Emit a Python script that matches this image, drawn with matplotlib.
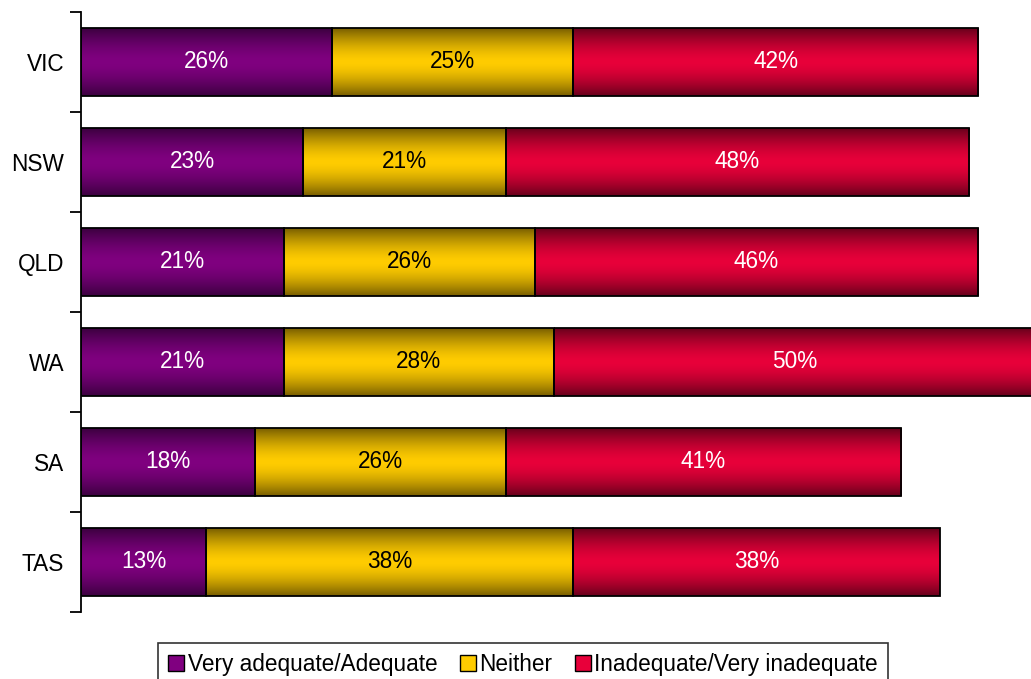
import numpy as np
import matplotlib.pyplot as plt
from matplotlib.colors import to_rgb
from matplotlib.patches import Patch

plt.rcParams['font.family'] = ['Liberation Sans', 'DejaVu Sans']

states = ['VIC', 'NSW', 'QLD', 'WA', 'SA', 'TAS']
adequate = [26, 23, 21, 21, 18, 13]
neither = [25, 21, 26, 28, 26, 38]
inadequate = [42, 48, 46, 50, 41, 38]

series = [
    ('Very adequate/Adequate', adequate, '#800080', '#3c0040', 'white'),
    ('Neither', neither, '#ffcc00', '#7a6000', 'black'),
    ('Inadequate/Very inadequate', inadequate, '#e8003a', '#6a001c', 'white'),
]


def gradient(bright, dark, n=64):
    # dark at the top and bottom edges, bright through the middle
    t = np.linspace(0, 1, n)
    mix = np.clip(np.abs(t - 0.5) * 2, 0, 1) ** 1.6
    b, d = np.array(to_rgb(bright)), np.array(to_rgb(dark))
    return (b[None, :] * (1 - mix[:, None]) + d[None, :] * mix[:, None])[:, None, :]


fig = plt.figure(figsize=(10.31, 6.79), dpi=100)
ax = fig.add_axes([81 / 1031, 67 / 679, 950 / 1031, 600 / 679])

y = np.arange(len(states))
h = 0.68
fs = 16.3
left = np.zeros(len(states))
for name, vals, bright, dark, tc in series:
    img = gradient(bright, dark)
    for i, v in enumerate(vals):
        ax.imshow(img, extent=(left[i], left[i] + v, y[i] + h / 2, y[i] - h / 2),
                  aspect='auto', zorder=1, interpolation='bilinear')
        ax.text(left[i] + v / 2, y[i], f'{v}%', ha='center', va='center',
                color=tc, fontsize=fs, zorder=3)
    ax.barh(y, vals, left=left, height=h, facecolor='none', edgecolor='black',
            linewidth=1.3, zorder=2)
    left += np.array(vals)

ax.set_xlim(0, 950 / 9.65)
ax.set_ylim(len(states) - 0.5, -0.5)
ax.set_yticks(y)
ax.set_yticklabels(states, fontsize=fs)
ax.set_yticks(np.arange(len(states) + 1) - 0.5, minor=True)
ax.tick_params(axis='y', which='major', length=0, pad=12)
ax.tick_params(axis='y', which='minor', length=8, width=1.3, direction='out')
ax.set_xticks([])
for s in ['top', 'right', 'bottom']:
    ax.spines[s].set_visible(False)
ax.spines['left'].set_linewidth(1.3)

handles = [Patch(facecolor=b, edgecolor='black', label=n) for n, _, b, _, _ in series]
leg = fig.legend(handles=handles, loc='upper center', bbox_to_anchor=(523 / 1031, 1 - 643 / 679),
                 ncol=3, fontsize=fs, frameon=True, fancybox=False, edgecolor='black',
                 handlelength=0.7, handleheight=0.7, handletextpad=0.15, columnspacing=1.0,
                 borderpad=0.45, borderaxespad=0)
leg.get_frame().set_linewidth(1.2)

fig.savefig('out.png', dpi=100)
